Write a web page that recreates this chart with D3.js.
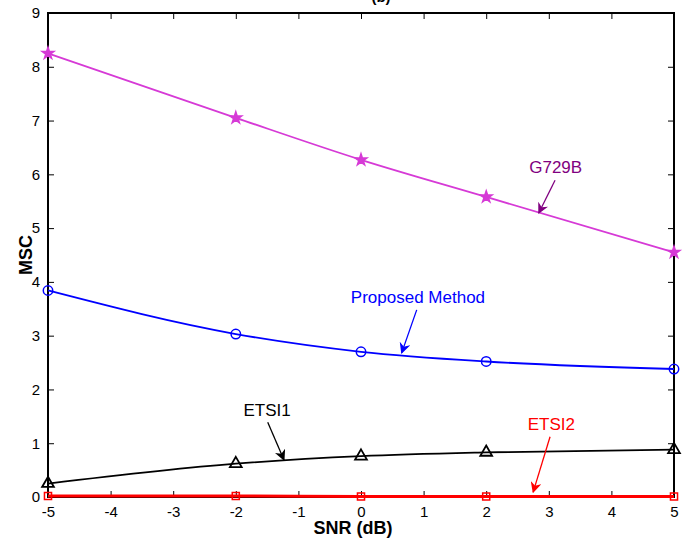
<!DOCTYPE html>
<html>
<head>
<meta charset="utf-8">
<script src="https://cdn.jsdelivr.net/npm/d3@7"></script>
<style>
  html, body { margin: 0; padding: 0; background: #fff; }
  svg { display: block; }
  text { font-family: "Liberation Sans", Arial, sans-serif; }
</style>
</head>
<body>
<div id="chart"></div>
<script>
// SNR levels (dB) and measured MSC for each detector
const snr = [-5, -2, 0, 2, 5];
const g729b = [8.25, 7.05, 6.27, 5.58, 4.55];
const proposed = [3.84, 3.03, 2.70, 2.52, 2.38];
const etsi1 = [0.25, 0.62, 0.76, 0.83, 0.88];
const etsi2 = [0.02, 0.02, 0.01, 0.01, 0.01];

const xTicks = [-5, -4, -3, -2, -1, 0, 1, 2, 3, 4, 5];
const yTicks = [0, 1, 2, 3, 4, 5, 6, 7, 8, 9];

const W = 690, H = 541;
const margin = { left: 48, right: 16, top: 13, bottom: 44 };

const svg = d3.select("#chart").append("svg")
  .attr("width", W).attr("height", H);

const x = d3.scaleLinear().domain([-5, 5]).range([margin.left, W - margin.right]);
const y = d3.scaleLinear().domain([0, 9]).range([H - margin.bottom, margin.top]);

const x0 = x.range()[0], x1 = x.range()[1];
const y0 = y.range()[0], y1 = y.range()[1];

// Title, sitting at the very top edge
svg.append("text")
  .attr("x", 381).attr("y", 2)
  .attr("text-anchor", "middle")
  .attr("font-size", 15).attr("font-weight", "bold")
  .text("(b)");

// Plot frame
svg.append("rect")
  .attr("x", x0).attr("y", y1)
  .attr("width", x1 - x0).attr("height", y0 - y1)
  .attr("fill", "none").attr("stroke", "#000").attr("stroke-width", 2);

// Axes: ticks pointing inward on all four sides; plain hyphen for negatives
const tickLen = 6;
const plain = d => String(d);
const bottomAxis = d3.axisBottom(x).tickValues(xTicks).tickSizeInner(-tickLen).tickSizeOuter(0)
  .tickPadding(tickLen + 3).tickFormat(plain);
const topAxis = d3.axisTop(x).tickValues(xTicks).tickSizeInner(-tickLen).tickSizeOuter(0).tickFormat("");
const leftAxis = d3.axisLeft(y).tickValues(yTicks).tickSizeInner(-tickLen).tickSizeOuter(0)
  .tickPadding(tickLen + 2).tickFormat(plain);
const rightAxis = d3.axisRight(y).tickValues(yTicks).tickSizeInner(-tickLen).tickSizeOuter(0).tickFormat("");

function styleAxis(g) {
  g.select(".domain").remove();
  g.selectAll(".tick line").attr("stroke", "#000").attr("stroke-width", 1);
  g.selectAll(".tick text").attr("fill", "#000").attr("font-size", 15)
    .attr("font-family", "'Liberation Sans', Arial, sans-serif");
}

svg.append("g").attr("transform", `translate(0,${y0})`).call(bottomAxis).call(styleAxis);
svg.append("g").attr("transform", `translate(0,${y1})`).call(topAxis).call(styleAxis);
svg.append("g").attr("transform", `translate(${x0},0)`).call(leftAxis).call(styleAxis);
svg.append("g").attr("transform", `translate(${x1},0)`).call(rightAxis).call(styleAxis);

// Axis labels
svg.append("text")
  .attr("x", 353).attr("y", 534)
  .attr("text-anchor", "middle").attr("font-size", 18).attr("font-weight", "bold")
  .text("SNR (dB)");
svg.append("text")
  .attr("transform", `translate(32,${(y0 + y1) / 2}) rotate(-90)`)
  .attr("text-anchor", "middle").attr("font-size", 18).attr("font-weight", "bold")
  .text("MSC");

// Series
const series = [
  { name: "G729B", values: g729b, color: "#d63ad6", marker: "star" },
  { name: "Proposed Method", values: proposed, color: "#0000ff", marker: "circle" },
  { name: "ETSI1", values: etsi1, color: "#000000", marker: "triangle" },
  { name: "ETSI2", values: etsi2, color: "#ff0000", marker: "square" }
];

const line = d3.line()
  .x(d => x(d[0])).y(d => y(d[1]))
  .curve(d3.curveMonotoneX);

const symbolFor = {
  star: d3.symbol().type(d3.symbolStar).size(42),
  circle: d3.symbol().type(d3.symbolCircle).size(70),
  triangle: d3.symbol().type(d3.symbolTriangle).size(60),
  square: d3.symbol().type(d3.symbolSquare).size(50)
};

series.forEach(s => {
  const pts = snr.map((v, i) => [v, s.values[i]]);
  svg.append("path")
    .datum(pts)
    .attr("d", line)
    .attr("fill", "none")
    .attr("stroke", s.color)
    .attr("stroke-width", s.name === "ETSI2" ? 3 : 1.8);
  svg.append("g").selectAll("path")
    .data(pts).join("path")
    .attr("transform", d => `translate(${x(d[0])},${y(d[1])})`)
    .attr("d", symbolFor[s.marker])
    .attr("fill", s.marker === "star" ? s.color : "none")
    .attr("stroke", s.color)
    .attr("stroke-width", s.marker === "triangle" ? 1.8 : 1.5);
});

// Series annotations with arrows, anchored in data coordinates
const annotations = [
  { text: "G729B", color: "#800080", tx: 3.11, ty: 6.02, from: [3.10, 5.89], to: [2.84, 5.28] },
  { text: "Proposed Method", color: "#0000ff", tx: 0.91, ty: 3.61, from: [0.89, 3.48], to: [0.65, 2.68] },
  { text: "ETSI1", color: "#000000", tx: -1.50, ty: 1.51, from: [-1.49, 1.39], to: [-1.23, 0.69] },
  { text: "ETSI2", color: "#ff0000", tx: 3.04, ty: 1.25, from: [3.02, 1.12], to: [2.75, 0.09] }
];

const defs = svg.append("defs");
annotations.forEach((a, i) => {
  defs.append("marker")
    .attr("id", "arrow" + i)
    .attr("viewBox", "0 0 10 10")
    .attr("refX", 9).attr("refY", 5)
    .attr("markerWidth", 11).attr("markerHeight", 11)
    .attr("markerUnits", "userSpaceOnUse")
    .attr("orient", "auto")
    .append("path")
    .attr("d", "M0,0 L10,5 L0,10 L3,5 Z")
    .attr("fill", a.color);

  svg.append("text")
    .attr("x", x(a.tx)).attr("y", y(a.ty))
    .attr("text-anchor", "middle")
    .attr("font-size", 17)
    .attr("fill", a.color)
    .text(a.text);

  svg.append("line")
    .attr("x1", x(a.from[0])).attr("y1", y(a.from[1]))
    .attr("x2", x(a.to[0])).attr("y2", y(a.to[1]))
    .attr("stroke", a.color).attr("stroke-width", 1.3)
    .attr("marker-end", `url(#arrow${i})`);
});
</script>
</body>
</html>
